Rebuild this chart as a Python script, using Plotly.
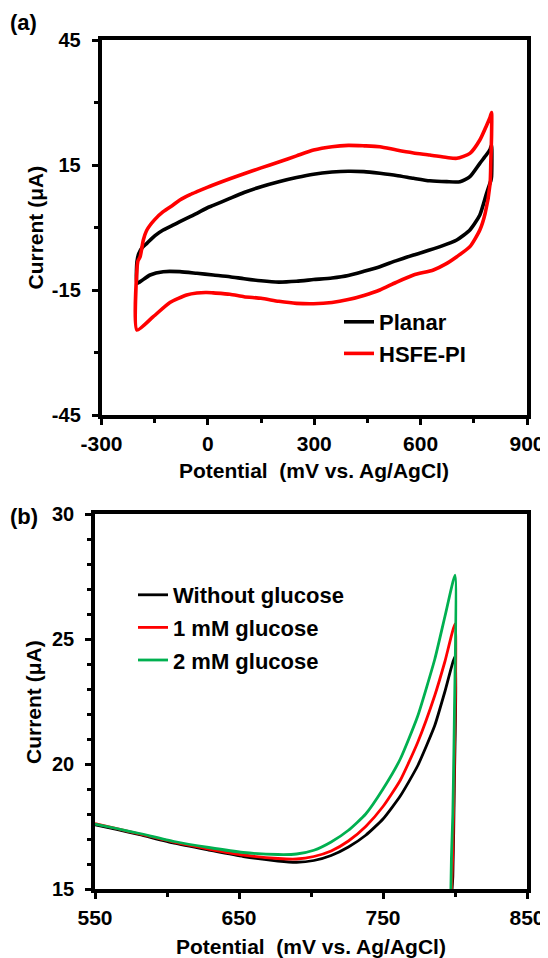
import plotly.graph_objects as go

# ---------------- Panel (a): cyclic voltammograms ----------------
planar_fwd_x = [-200, -195, -185, -172, -150, -126, -100, -79, -50, -31, 0, 15, 62, 102, 150, 200,
                250, 298, 350, 396, 440, 485, 532, 580, 626, 674, 711, 739, 767, 786, 796, 800]
planar_fwd_y = [-8.2, -6.3, -4.8, -3.8, -2.0, -0.6, 0.5, 1.4, 2.6, 3.4, 4.8, 5.3, 7.0, 8.4, 9.8, 11.0,
                12.0, 12.8, 13.3, 13.5, 13.4, 13.0, 12.5, 11.8, 11.2, 11.0, 11.0, 12.2, 15.4, 17.5, 18.8, 19.8]
planar_rev_x = [800, 798, 795, 786, 767, 739, 702, 655, 580, 530, 485, 440, 396, 350, 298, 250, 200,
                150, 102, 62, 15, -31, -79, -126, -163, -191, -200, -200]
planar_rev_y = [12.2, 11.2, 10.5, 8.2, 3.0, -0.6, -3.0, -4.6, -6.6, -8.0, -9.4, -10.5, -11.5, -12.1,
                -12.5, -12.9, -13.1, -12.8, -12.3, -11.8, -11.4, -11.0, -10.6, -10.6, -11.4, -13.0, -13.4, -8.2]

hsfe_fwd_x = [-200, -197, -191, -182, -172, -150, -126, -100, -79, -50, -31, 0, 15, 62, 102, 150, 200,
              250, 298, 350, 396, 440, 485, 532, 580, 626, 674, 702, 739, 767, 786, 796, 800]
hsfe_fwd_y = [-10.0, -8.0, -7.0, -3.0, -0.6, 1.9, 3.8, 5.3, 6.6, 7.9, 8.6, 9.7, 10.2, 11.7, 12.9, 14.3,
              15.7, 17.2, 18.6, 19.4, 19.7, 19.6, 19.4, 18.6, 17.9, 17.4, 16.8, 16.6, 17.8, 21.0, 24.5, 26.5, 27.6]
hsfe_rev_x = [800, 798, 796, 782, 767, 739, 702, 670, 636, 580, 530, 485, 440, 396, 350, 298, 250, 200,
              150, 102, 62, 15, -3, -31, -60, -107, -154, -200, -200]
hsfe_rev_y = [21.8, 16.0, 10.6, 3.4, -0.6, -4.6, -7.0, -8.8, -10.2, -11.4, -13.2, -15.0, -16.3, -17.3,
              -18.0, -18.3, -18.2, -17.7, -17.0, -16.6, -16.0, -15.7, -15.6, -15.7, -16.2, -18.0, -21.4, -24.6, -10.0]

# ---------------- Panel (b): glucose response ----------------
pot_b = [550, 565, 581, 605, 629, 653, 677, 690, 702, 714, 726, 738, 750, 762, 774, 786, 793, 800]
no_glu_y = [17.57, 17.38, 17.17, 16.83, 16.56, 16.30, 16.12, 16.07, 16.14, 16.34, 16.68, 17.15, 17.80,
            18.72, 19.92, 21.55, 22.90, 24.30]
glu1_y = [17.62, 17.42, 17.20, 16.87, 16.60, 16.36, 16.22, 16.20, 16.30, 16.52, 16.92, 17.50, 18.30,
          19.35, 20.85, 22.75, 24.10, 25.60]
glu2_y = [17.60, 17.42, 17.22, 16.90, 16.66, 16.46, 16.38, 16.40, 16.55, 16.88, 17.35, 18.00, 19.00,
          20.20, 21.90, 24.20, 25.90, 27.55]
drop_x = [799.5, 798.5, 797.5, 797.0]
no_glu_drop = [19.0, 15.5, 14.6, 14.0]
glu1_drop = [20.0, 16.5, 14.8, 14.0]
glu2_drop = [21.6, 18.0, 16.2, 14.5]

x_ticks_a = [-300, 0, 300, 600, 900]
x_labels_a = ["-300", "0", "300", "600", "900"]
y_ticks_a = [-45, -15, 15, 45]
y_labels_a = ["-45", "-15", "15", "45"]
x_ticks_b = [550, 650, 750, 850]
x_labels_b = ["550", "650", "750", "850"]
y_ticks_b = [15, 20, 25, 30]
y_labels_b = ["15", "20", "25", "30"]

FONT = "Arial, Liberation Sans, sans-serif"
OFF = 8                      # page body margin
W, H = 548 - OFF, 958 - OFF  # figure size


def fx(px):
    return (px - OFF) / W


def fy(py):
    return 1 - (py - OFF) / H


fig = go.Figure()

fig.add_trace(go.Scatter(x=planar_fwd_x + planar_rev_x, y=planar_fwd_y + planar_rev_y,
                         mode="lines", name="Planar", line=dict(color="#000000", width=3.6, shape="spline", smoothing=0.6),
                         xaxis="x", yaxis="y", legend="legend"))
fig.add_trace(go.Scatter(x=hsfe_fwd_x + hsfe_rev_x, y=hsfe_fwd_y + hsfe_rev_y,
                         mode="lines", name="HSFE-PI", line=dict(color="#ff0000", width=3.6, shape="spline", smoothing=0.6),
                         xaxis="x", yaxis="y", legend="legend"))

for name, ys, yd, col in [("Without glucose", no_glu_y, no_glu_drop, "#000000"),
                          ("1 mM glucose", glu1_y, glu1_drop, "#ff0000"),
                          ("2 mM glucose", glu2_y, glu2_drop, "#00b050")]:
    fig.add_trace(go.Scatter(x=pot_b + drop_x, y=ys + yd, mode="lines", name=name,
                             line=dict(color=col, width=2.8, shape="spline", smoothing=0.5),
                             xaxis="x2", yaxis="y2", legend="legend2", legendgroup=name))

common = dict(showline=True, linecolor="black", linewidth=3.5, mirror=True, ticks="outside",
              ticklen=6, tickwidth=3, tickcolor="black", showgrid=False, zeroline=False,
              tickmode="array")
xfont = dict(family=FONT, size=21, color="black", weight="bold")
yfont = dict(family=FONT, size=20, color="black", weight="bold")
minor = dict(ticks="outside", ticklen=4, tickwidth=3, tickcolor="black")

fig.update_layout(
    width=W, height=H, margin=dict(l=0, r=0, t=0, b=0, pad=0, autoexpand=False),
    paper_bgcolor="white", plot_bgcolor="white",
    font=dict(family=FONT, color="black"),
    xaxis=dict(domain=[fx(101.5), fx(527)], range=[-300, 900], tickvals=x_ticks_a, ticktext=x_labels_a, anchor="y",
               tickfont=xfont, ticklabelstandoff=1, minor=dict(dtick=150, tick0=-300, **minor), **common),
    yaxis=dict(domain=[fy(415), fy(40)], range=[-45, 45], tickvals=y_ticks_a, ticktext=y_labels_a, anchor="x",
               tickfont=yfont, ticklabelstandoff=7, minor=dict(dtick=15, tick0=-45, **minor), **common),
    xaxis2=dict(domain=[fx(95), fx(527)], range=[550, 850], tickvals=x_ticks_b, ticktext=x_labels_b, anchor="y2",
                tickfont=xfont, ticklabelstandoff=1, minor=dict(dtick=50, tick0=550, **minor), **common),
    yaxis2=dict(domain=[fy(889), fy(514)], range=[15, 30], tickvals=y_ticks_b, ticktext=y_labels_b, anchor="x2",
                tickfont=yfont, ticklabelstandoff=7, minor=dict(dtick=1, tick0=15, **minor), **common),
    legend=dict(x=fx(339), y=fy(301), xanchor="left", yanchor="top", bgcolor="rgba(0,0,0,0)",
                font=dict(family=FONT, size=22, color="black", weight="bold")),
    legend2=dict(x=fx(133), y=fy(574), xanchor="left", yanchor="top", bgcolor="rgba(0,0,0,0)",
                 tracegroupgap=1, traceorder="grouped",
                 font=dict(family=FONT, size=22, color="black", weight="bold")),
    showlegend=True,
)

ann_font = dict(family=FONT, size=21, color="black", weight="bold")
lab_font = dict(family=FONT, size=22, color="black", weight="bold")
annotations = [
    dict(text="(a)", x=fx(8), y=fy(22), xanchor="left", yanchor="middle", font=lab_font),
    dict(text="(b)", x=fx(8), y=fy(516), xanchor="left", yanchor="middle", font=lab_font),
    dict(text="Current (μA)", x=fx(35), y=fy(227.5), textangle=-90, xanchor="center", yanchor="middle", font=ann_font),
    dict(text="Current (μA)", x=fx(33), y=fy(702), textangle=-90, xanchor="center", yanchor="middle", font=ann_font),
    dict(text="Potential\u00a0 (mV vs. Ag/AgCl)", x=fx(314), y=fy(470), xanchor="center", yanchor="middle", font=ann_font),
    dict(text="Potential\u00a0 (mV vs. Ag/AgCl)", x=fx(311), y=fy(946), xanchor="center", yanchor="middle", font=ann_font),
]
for a in annotations:
    a.update(xref="paper", yref="paper", showarrow=False)
fig.update_layout(annotations=annotations)

fig.write_html("out.html")
